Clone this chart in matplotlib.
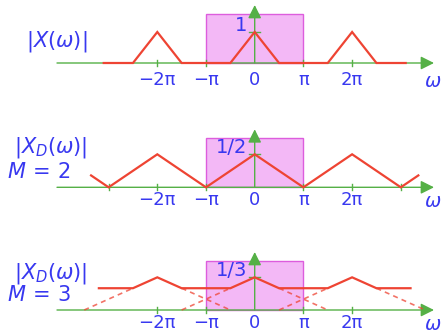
import numpy as np
import matplotlib
matplotlib.use('Agg')
import matplotlib.pyplot as plt
from matplotlib.patches import Rectangle

plt.rcParams['mathtext.fontset'] = 'dejavusans'

pi = np.pi

# spectrum of x[n]: triangles of half-width pi/2 repeated every 2pi
x1 = [-3.1, -2.5, -2, -1.5, -0.5, 0, 0.5, 1.5, 2, 2.5, 3.1]
y1 = [0, 0, 1, 0, 0, 1, 0, 0, 1, 0, 0]

# decimated by M=2: triangles just touch
x2 = [-3.36, -3, -2, -1, 0, 1, 2, 3, 3.36]
y2 = [0.18, 0, 0.5, 0, 0.5, 0, 0.5, 0, 0.18]

# decimated by M=3: overlapping triangles (aliasing)
x3 = [-3.2, -2.5, -2, -1.5, -0.5, 0, 0.5, 1.5, 2, 2.5, 3.2]
y3 = [2/9, 2/9, 1/3, 2/9, 2/9, 1/3, 2/9, 2/9, 1/3, 2/9, 2/9]
# the individual shifted copies where they hide under the sum
alias_x = [(-3.5, -2.5), (-1.5, -0.5), (-1.5, -0.5), (0.5, 1.5), (0.5, 1.5), (2.5, 3.5)]
alias_y = [(0, 2/9), (2/9, 0), (0, 2/9), (2/9, 0), (0, 2/9), (2/9, 0)]

peaks = [1, 1/2, 1/3]
peak_labels = ['1', '1/2', '1/3']
filter_gain = [1.58, 0.75, 0.5]
tick_pos = [[-2, -1, 1, 2], [-3, -2, -1, 1, 2, 3], [-2, -1, 1, 2]]
tick_names = {-2: '−2π', -1: '−π', 0: '0', 1: 'π', 2: '2π'}
titles = [r'$|X(\omega)|$', r'$|X_D(\omega)|$', r'$|X_D(\omega)|$']
sublabels = [None, r'$M\,=\,2$', r'$M\,=\,3$']

W, H = 442, 332
x0_px, pi_px = 254.7, 48.7
axis_px = [63, 187.3, 310]          # row of the omega axis, from top
scale_px = [31, 66, 98]             # pixels per unit of magnitude
label_gap = [8, 4, 4]
title_px = [(26, 42, None), (14, 148, 172), (14, 273, 295)]

green = '#55b046'
red = '#ee4433'
blue = '#3838f0'
fill = '#f3b8f6'
edge = '#dd5ddd'

fig = plt.figure(figsize=(W / 100, H / 100), dpi=100)

def px_x(p):
    return (p - x0_px) / pi_px * pi

for i in range(3):
    s = scale_px[i]
    ya = axis_px[i]
    ax = fig.add_axes([0, 0, 1, 1])
    ax.set_xlim(px_x(0), px_x(W))
    ax.set_ylim(-(H - ya) / s, ya / s)
    ax.axis('off')
    ax.patch.set_alpha(0)

    # ideal lowpass band
    ax.add_patch(Rectangle((-pi, 0), 2 * pi, filter_gain[i], facecolor=fill,
                           edgecolor=edge, lw=1, zorder=1))

    # axes with arrows
    ax.annotate('', xy=(px_x(434), 0), xytext=(px_x(57), 0),
                arrowprops=dict(arrowstyle='-|>', color=green, lw=1,
                                mutation_scale=20, shrinkA=0, shrinkB=0), zorder=3)
    ax.annotate('', xy=(0, 58 / s), xytext=(0, 0),
                arrowprops=dict(arrowstyle='-|>', color=green, lw=1,
                                mutation_scale=20, shrinkA=0, shrinkB=0), zorder=3)

    for t in tick_pos[i]:
        ax.plot([t * pi, t * pi], [-3 / s, 3 / s], color=green, lw=1, zorder=3)
    ax.plot([px_x(249), px_x(260)], [peaks[i], peaks[i]], color=green, lw=1, zorder=3)

    for t in [-2, -1, 0, 1, 2]:
        ax.text(t * pi, -label_gap[i] / s, tick_names[t], color=blue, fontsize=13,
                ha='center', va='top', zorder=5)
    ax.text(px_x(433), -label_gap[i] / s - 1 / s, r'$\omega$', color=blue, fontsize=14,
            ha='center', va='top', zorder=5)
    ax.text(px_x(247), peaks[i] + 1 / s, peak_labels[i], color=blue, fontsize=14,
            ha='right', va='baseline', zorder=5)

    tx, ty, my = title_px[i]
    ax.text(px_x(tx), (ya - ty) / s, titles[i], color=blue, fontsize=15,
            ha='left', va='center', zorder=5)
    if sublabels[i]:
        ax.text(px_x(7), (ya - my) / s, sublabels[i], color=blue, fontsize=15,
                ha='left', va='center', zorder=5)

xs = [x1, x2, x3]
ys = [y1, y2, y3]
for i, ax in enumerate(fig.axes):
    ax.plot(np.array(xs[i]) * pi, ys[i], color=red, lw=1.6, zorder=4,
            solid_joinstyle='miter')
ax3 = fig.axes[2]
for ax_, ay_ in zip(alias_x, alias_y):
    ax3.plot(np.array(ax_) * pi, ay_, color=red, lw=1.2, alpha=0.75,
             dashes=(3, 2.5), zorder=4)

fig.savefig('out.png', dpi=100)
